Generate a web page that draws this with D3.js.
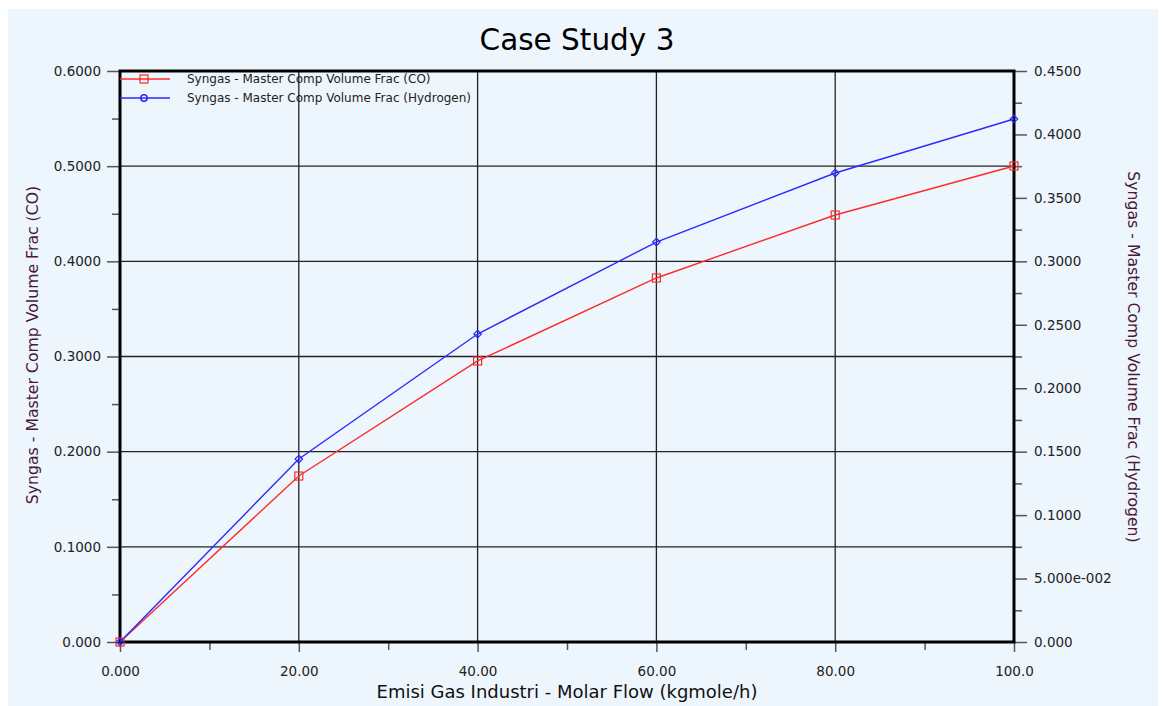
<!DOCTYPE html>
<html>
<head>
<meta charset="utf-8">
<script src="https://cdn.jsdelivr.net/npm/d3@7/dist/d3.min.js"></script>
<style>
  body { margin: 0; background: #fff; }
  svg text { font-family: "DejaVu Sans", Verdana, sans-serif; }
</style>
</head>
<body>
<svg id="chart" width="1164" height="706"></svg>
<script>
// data
const flow = [0, 20, 40, 60, 80, 100];
const coFrac = [0.000, 0.1744, 0.2953, 0.3825, 0.4487, 0.5002];
const h2Frac = [0.000, 0.1442, 0.2427, 0.3152, 0.3696, 0.4122];
const xTickLabels = ["0.000", "20.00", "40.00", "60.00", "80.00", "100.0"];
const leftTickLabels = ["0.000", "0.1000", "0.2000", "0.3000", "0.4000", "0.5000", "0.6000"];
const rightTickLabels = ["0.000", "5.000e-002", "0.1000", "0.1500", "0.2000", "0.2500", "0.3000", "0.3500", "0.4000", "0.4500"];
const seriesNames = ["Syngas - Master Comp Volume Frac (CO)", "Syngas - Master Comp Volume Frac (Hydrogen)"];

const svg = d3.select('#chart');
const m = {left: 120, right: 1014, top: 71, bottom: 642};

svg.append('rect').attr('x', 8).attr('y', 9).attr('width', 1150).attr('height', 697)
   .attr('fill', '#eef6fd');

const x = d3.scaleLinear().domain([0, 100]).range([m.left, m.right]);
const yL = d3.scaleLinear().domain([0, 0.6]).range([m.bottom, m.top]);
const yR = d3.scaleLinear().domain([0, 0.45]).range([m.bottom, m.top]);

// grid
const grid = svg.append('g').attr('stroke', '#222').attr('stroke-width', 1.3);
grid.selectAll('line.gx').data([20, 40, 60, 80]).enter().append('line')
    .attr('x1', d => x(d)).attr('x2', d => x(d)).attr('y1', m.top).attr('y2', m.bottom);
grid.selectAll('line.gy').data([0.1, 0.2, 0.3, 0.4, 0.5]).enter().append('line')
    .attr('y1', d => yL(d)).attr('y2', d => yL(d)).attr('x1', m.left).attr('x2', m.right);

// axes
function styleAxis(g) {
  g.select('.domain').remove();
  g.selectAll('.tick line').attr('stroke', '#555').attr('stroke-width', 1.5);
  g.selectAll('.tick text').attr('fill', '#222').style('font-size', '13.5px')
   .style('font-family', '"DejaVu Sans", Verdana, sans-serif');
}

const xAxis = svg.append('g').attr('transform', `translate(0,${m.bottom})`)
  .call(d3.axisBottom(x).tickValues(flow).tickSize(10).tickPadding(14)
    .tickFormat((d, i) => xTickLabels[i]));
styleAxis(xAxis);
const xMinor = svg.append('g').attr('transform', `translate(0,${m.bottom})`)
  .call(d3.axisBottom(x).tickValues([10, 30, 50, 70, 90]).tickSize(8).tickFormat(''));
styleAxis(xMinor);

const lAxis = svg.append('g').attr('transform', `translate(${m.left},0)`)
  .call(d3.axisLeft(yL).tickValues(d3.range(7).map(i => i / 10)).tickSize(13).tickPadding(6)
    .tickFormat((d, i) => leftTickLabels[i]));
styleAxis(lAxis);
const lMinor = svg.append('g').attr('transform', `translate(${m.left},0)`)
  .call(d3.axisLeft(yL).tickValues(d3.range(6).map(i => i / 10 + 0.05)).tickSize(8).tickFormat(''));
styleAxis(lMinor);

const rAxis = svg.append('g').attr('transform', `translate(${m.right},0)`)
  .call(d3.axisRight(yR).tickValues(d3.range(10).map(i => i * 0.05)).tickSize(13).tickPadding(7)
    .tickFormat((d, i) => rightTickLabels[i]));
styleAxis(rAxis);
const rMinor = svg.append('g').attr('transform', `translate(${m.right},0)`)
  .call(d3.axisRight(yR).tickValues(d3.range(9).map(i => i * 0.05 + 0.025)).tickSize(8).tickFormat(''));
styleAxis(rMinor);

// frame
svg.append('rect').attr('x', m.left).attr('y', m.top)
   .attr('width', m.right - m.left).attr('height', m.bottom - m.top)
   .attr('fill', 'none').attr('stroke', '#000').attr('stroke-width', 3);

// series
const coPts = flow.map((f, i) => [x(f), yL(coFrac[i])]);
const h2Pts = flow.map((f, i) => [x(f), yR(h2Frac[i])]);
const line = d3.line();

svg.append('path').attr('d', line(coPts)).attr('fill', 'none').attr('stroke', '#ff2a2a').attr('stroke-width', 1.4);
svg.append('path').attr('d', line(h2Pts)).attr('fill', 'none').attr('stroke', '#2a2aff').attr('stroke-width', 1.4);

svg.selectAll('rect.co').data(coPts).enter().append('rect')
   .attr('x', d => d[0] - 4).attr('y', d => d[1] - 4).attr('width', 8).attr('height', 8)
   .attr('fill', 'none').attr('stroke', '#ff2a2a').attr('stroke-width', 1.2);
const diamond = d3.symbol().type(d3.symbolDiamond2).size(36);
svg.selectAll('path.h2').data(h2Pts).enter().append('path')
   .attr('d', diamond).attr('transform', d => `translate(${d[0]},${d[1]})`)
   .attr('fill', 'none').attr('stroke', '#2a2aff').attr('stroke-width', 1.2);

// legend
const legend = svg.append('g');
[["#ff2a2a", 79], ["#2a2aff", 98]].forEach((c, i) => {
  legend.append('line').attr('x1', m.left).attr('x2', 170).attr('y1', c[1]).attr('y2', c[1])
        .attr('stroke', c[0]).attr('stroke-width', 1.3);
  if (i === 0) {
    legend.append('rect').attr('x', 140).attr('y', c[1] - 4).attr('width', 8).attr('height', 8)
          .attr('fill', 'none').attr('stroke', c[0]).attr('stroke-width', 1.2);
  } else {
    legend.append('circle').attr('cx', 144).attr('cy', c[1]).attr('r', 3.2)
          .attr('fill', 'none').attr('stroke', c[0]).attr('stroke-width', 1.5);
  }
  legend.append('text').attr('x', 187).attr('y', c[1] + 4).text(seriesNames[i])
        .attr('fill', '#222').style('font-size', '12px');
});

// titles
svg.append('text').attr('x', 577).attr('y', 50).attr('text-anchor', 'middle')
   .style('font-size', '29.5px').attr('fill', '#000').text('Case Study 3');
svg.append('text').attr('x', 567).attr('y', 698).attr('text-anchor', 'middle')
   .style('font-size', '18px').attr('fill', '#111').text('Emisi Gas Industri - Molar Flow (kgmole/h)');
svg.append('text').attr('transform', 'translate(38,345) rotate(-90)').attr('text-anchor', 'middle')
   .style('font-size', '15.7px').attr('fill', '#4a1838').text(seriesNames[0]);
svg.append('text').attr('transform', 'translate(1128,357) rotate(90)').attr('text-anchor', 'middle')
   .style('font-size', '15.7px').attr('fill', '#4a1838').text(seriesNames[1]);
</script>
</body>
</html>
